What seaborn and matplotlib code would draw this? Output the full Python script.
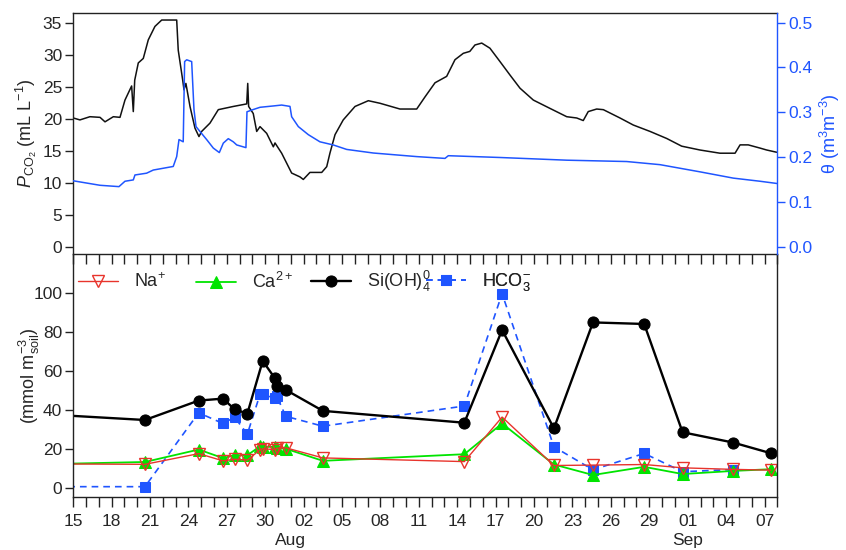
import matplotlib
matplotlib.use("Agg")
import matplotlib.dates as mdates
import matplotlib.pyplot as plt
import matplotlib.transforms as mtransforms
import numpy as np
import pandas as pd
import seaborn as sns
from matplotlib.ticker import FixedLocator, FormatStrFormatter

START = pd.Timestamp("2012-07-15")

#####
#   top panel: continuous records, days since 15 Jul
#####
PCO2_DAYS = [0.00, 0.52, 1.30, 2.09, 2.48, 3.13, 3.65, 4.04, 4.56, 4.69, 4.80,
             5.08, 5.47, 5.86, 6.38, 6.91, 8.08, 8.20, 8.55, 8.65, 8.80, 9.12,
             9.51, 9.82, 10.03, 10.68, 11.33, 12.50, 13.55, 13.63, 13.70, 14.06,
             14.33, 14.59, 15.11, 15.63, 15.76, 16.28, 17.06, 17.71, 17.97, 18.49,
             19.41, 19.80, 20.05, 20.45, 21.09, 22.01, 23.05, 23.96, 25.52, 26.83,
             27.48, 28.26, 29.17, 29.82, 30.47, 30.98, 31.38, 31.91, 32.55, 33.34,
             34.12, 34.90, 35.94, 37.24, 38.55, 39.33, 39.84, 40.23, 40.89, 41.41,
             42.71, 43.75, 45.06, 46.36, 47.53, 48.96, 50.52, 51.70, 52.09, 52.73,
             53.65, 54.17, 54.95]
PCO2 = [20.1, 19.8, 20.3, 20.2, 19.5, 20.3, 20.2, 22.9, 25.1, 21.1, 26.0,
        28.7, 29.4, 32.3, 34.4, 35.4, 35.4, 30.7, 26.0, 24.5, 25.5, 21.9,
        18.5, 17.2, 18.0, 19.3, 21.4, 21.9, 22.3, 25.5, 21.9, 20.8,
        18.0, 18.75, 17.7, 15.6, 16.2, 14.6, 11.5, 10.9, 10.5, 11.6,
        11.6, 12.5, 14.6, 17.5, 19.8, 21.9, 22.8, 22.4, 21.5, 21.5,
        23.4, 25.6, 26.6, 29.2, 30.2, 30.5, 31.5, 31.8, 31.0, 28.9,
        26.8, 24.75, 22.9, 21.6, 20.3, 20.1, 19.7, 21.1, 21.5, 21.4,
        20.1, 19.0, 18.0, 16.9, 15.7, 15.1, 14.6, 14.6, 15.9, 15.9,
        15.4, 15.1, 14.75]

THETA_DAYS = [0.00, 2.09, 3.57, 4.04, 4.69, 4.82, 5.73, 6.25, 7.03, 7.81, 8.08,
              8.26, 8.59, 8.70, 8.86, 9.25, 9.43, 9.59, 9.90, 10.42, 10.94,
              11.41, 11.72, 12.11, 12.50, 12.77, 13.49, 13.57, 14.06, 14.59,
              15.63, 16.28, 16.93, 17.06, 17.58, 18.36, 19.27, 20.31, 21.36,
              23.44, 26.83, 29.04, 29.30, 33.34, 38.55, 43.23, 45.84, 48.96,
              51.56, 53.65, 54.98]
THETA = [0.147, 0.137, 0.134, 0.146, 0.149, 0.160, 0.164, 0.171, 0.175, 0.179, 0.201,
         0.239, 0.234, 0.413, 0.417, 0.413, 0.306, 0.268, 0.257, 0.239, 0.220,
         0.210, 0.231, 0.241, 0.234, 0.227, 0.221, 0.301, 0.306, 0.311,
         0.314, 0.316, 0.313, 0.290, 0.268, 0.250, 0.234, 0.227, 0.217,
         0.209, 0.201, 0.197, 0.203, 0.199, 0.193, 0.190, 0.183, 0.167,
         0.153, 0.146, 0.141]

#####
#   bottom panel: soil solution samples (mmol m-3 soil)
#####
SAMPLE_DAYS = [-1.3, 5.6, 9.8, 11.7, 12.6, 13.6, 14.6, 14.8, 15.75, 15.9,
               16.6, 19.5, 30.55, 33.5, 37.55, 40.6, 44.6, 47.6, 51.55, 54.5]
NA = [12.2, 12.0, 17.5, 13.8, 14.6, 14.2, 19.5, 20.0, 19.6, 20.3,
      20.5, 15.3, 13.4, 36.3, 11.4, 11.6, 11.9, 10.2, 9.4, 9.0]
CA = [12.2, 13.2, 19.6, 15.2, 16.7, 16.7, 21.3, 21.0, 21.0, 20.5,
      20.0, 13.8, 17.2, 33.0, 11.9, 6.5, 10.7, 7.0, 8.6, 9.5]
SI = [37.4, 34.8, 44.8, 45.8, 40.3, 38.1, np.nan, 65.2, 56.3, 52.3,
      50.3, 39.5, 33.4, 81.1, 30.5, 85.0, 84.2, 28.5, 23.2, 17.7]
HCO3 = [0.5, 0.5, 38.5, 33.0, 36.2, 27.6, 48.2, 48.0, 46.0, 47.0,
        36.7, 31.6, 42.0, 99.8, 21.0, 9.2, 17.6, 8.2, 9.3, np.nan]

SERIES_LABELS = {"Na": r"Na$^{+}$", "Ca": r"Ca$^{2+}$",
                 "Si": r"Si(OH)$_4^0$", "HCO3": r"HCO$_3^{-}$"}

BLUE = "#1f55ff"
RED = "#e8342c"
GREEN = "#00e400"
FRAME = "#222222"


def to_dates(days):
    return START + pd.to_timedelta(np.asarray(days, dtype=float), unit="D")


sns.set_style("ticks")
plt.rcParams["font.family"] = ["Liberation Sans", "DejaVu Sans"]
plt.rcParams["mathtext.fontset"] = "custom"
plt.rcParams["mathtext.rm"] = "Liberation Sans"
plt.rcParams["mathtext.it"] = "Liberation Sans:italic"
plt.rcParams["mathtext.bf"] = "Liberation Sans:bold"
plt.rcParams["axes.edgecolor"] = FRAME
plt.rcParams["axes.linewidth"] = 1.0
plt.rcParams["xtick.bottom"] = True
plt.rcParams["ytick.left"] = True

fig = plt.figure(figsize=(8.46, 5.5), dpi=100)
ax1 = fig.add_axes([0.0866, 0.5382, 0.8322, 0.4382])
ax2 = fig.add_axes([0.0866, 0.0964, 0.8322, 0.4418])
ax1r = ax1.twinx()
ax2.patch.set_visible(False)

# ---- top panel
pco2_df = pd.DataFrame({"time": to_dates(PCO2_DAYS), "pco2": PCO2})
theta_df = pd.DataFrame({"time": to_dates(THETA_DAYS), "theta": THETA})
sns.lineplot(data=pco2_df, x="time", y="pco2", ax=ax1, color="#111111",
             lw=1.1, estimator=None, sort=False)
sns.lineplot(data=theta_df, x="time", y="theta", ax=ax1r, color=BLUE,
             lw=1.1, estimator=None, sort=False)

ax1.set_ylim(-1.14, 36.5)
ax1r.set_ylim(-1.14 / 70, 36.5 / 70)
ax1.set_yticks(np.arange(0, 36, 5))
ax1r.set_yticks(np.arange(0, 0.51, 0.1))
ax1r.yaxis.set_major_formatter(FormatStrFormatter("%.1f"))

ax1.set_xlabel("")
ax1.set_ylabel(r"$P_{\mathrm{CO_2}}$ (mL L$^{-1}$)", fontsize=13)
ax1r.set_ylabel(r"θ (m$^{3}$m$^{-3}$)", fontsize=13, color=BLUE)
ax1.yaxis.set_label_coords(-0.048, 0.5)
ax1r.yaxis.set_label_coords(1.058, 0.5)

ax1.spines["right"].set_visible(False)
for side in ("left", "top", "bottom"):
    ax1r.spines[side].set_visible(False)
ax1r.spines["right"].set_color(BLUE)
ax1r.tick_params(axis="y", which="major", right=True, left=False, colors=BLUE,
                 labelsize=12.5, direction="out", length=6, width=1, pad=2)
ax1.tick_params(axis="y", which="major", left=True, right=False, labelsize=12.5,
                direction="out", length=6, width=1, pad=2, color=FRAME)

# ---- bottom panel
samples = pd.DataFrame({"time": to_dates(SAMPLE_DAYS), "Na": NA, "Ca": CA,
                        "Si": SI, "HCO3": HCO3})

styles = {
    "HCO3": dict(color=BLUE, lw=1.2, linestyle=(0, (4, 3)), marker="s",
                 markersize=6.5, markerfacecolor=BLUE, markeredgecolor=BLUE),
    "Si": dict(color="black", lw=1.7, marker="o", markersize=8,
               markerfacecolor="black", markeredgecolor="black"),
    "Ca": dict(color=GREEN, lw=1.3, marker="^", markersize=8.5,
               markerfacecolor=GREEN, markeredgecolor=GREEN),
    "Na": dict(color=RED, lw=1.0, marker="v", markersize=8.5,
               markerfacecolor="none", markeredgecolor=RED, markeredgewidth=1.0),
}

handles = {}
for key in ["HCO3", "Si", "Ca", "Na"]:
    sub = samples[["time", key]].dropna()
    sns.lineplot(data=sub, x="time", y=key, ax=ax2, estimator=None,
                 sort=False, label=SERIES_LABELS[key], **styles[key])
    handles[key] = ax2.lines[-1]

ax2.set_ylim(-4.8, 120.2)
ax2.set_yticks(np.arange(0, 101, 20))
ax2.set_xlabel("")
ax2.set_ylabel(r"(mmol m$^{-3}_{\mathrm{soil}}$)", fontsize=13)
ax2.yaxis.set_label_coords(-0.045, 0.5)
ax2.spines["top"].set_visible(False)
ax2.tick_params(axis="y", which="major", left=True, labelsize=12.5,
                direction="out", length=6, width=1, pad=2, color=FRAME)

# legend entries, spread along the top of the lower panel
if ax2.legend_ is not None:
    ax2.legend_.remove()
legend_x = {"Na": 0.0067, "Ca": 0.1743, "Si": 0.3377, "HCO3": 0.5010}
for key in ["Na", "Ca", "Si", "HCO3"]:
    leg = ax2.legend([handles[key]], [SERIES_LABELS[key]], loc="center left",
                     bbox_to_anchor=(legend_x[key], 0.885), frameon=False,
                     fontsize=13, handlelength=2.2, handletextpad=0.9,
                     borderpad=0, borderaxespad=0)
    ax2.add_artist(leg)

# ---- shared date axis
tick_dates = to_dates(np.arange(0, 55, 3))
for ax in (ax1, ax2):
    ax.set_xlim(to_dates([0, 55]))
    ax.xaxis.set_major_locator(FixedLocator(mdates.date2num(tick_dates)))
    ax.xaxis.set_minor_locator(mdates.DayLocator())
ax1.tick_params(axis="x", labelbottom=False)
ax2.xaxis.set_major_formatter(mdates.DateFormatter("%d"))
ax2.tick_params(axis="x", labelsize=12.5, pad=5)
for ax in (ax1, ax2):
    ax.xaxis.set_tick_params(which="both", bottom=True, top=False,
                             direction="out", length=7.5, width=1, color=FRAME)

trans = mtransforms.blended_transform_factory(ax2.transData, ax2.transAxes)
for name, first in [("Aug", "2012-08-01"), ("Sep", "2012-09-01")]:
    ax2.text(mdates.date2num(pd.Timestamp(first)), -0.181, name,
             transform=trans, ha="center", va="center", fontsize=12.5)

fig.savefig("out.png", dpi=100)
